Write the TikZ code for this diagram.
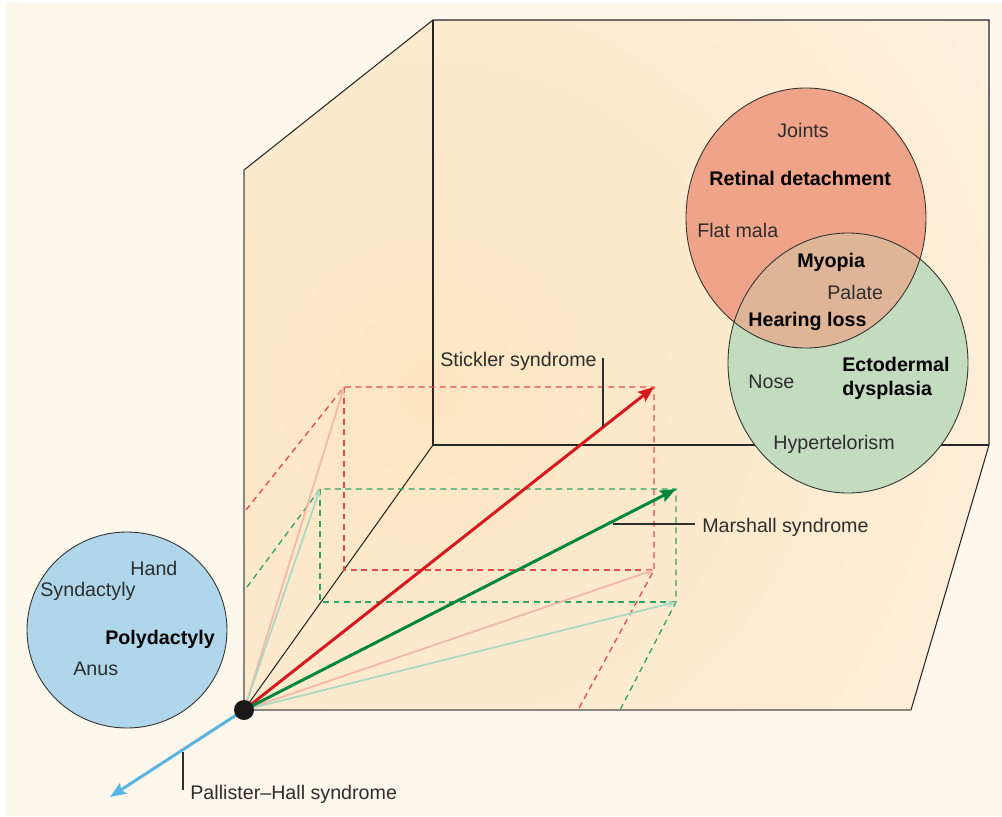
\documentclass[tikz,border=0pt]{standalone}
\usepackage{fontspec}
\setmainfont{Liberation Sans}
\usepackage{tikz}
\usetikzlibrary{arrows.meta, positioning, calc}

\definecolor{pagebg}{HTML}{FEF7EB}
\definecolor{boxin}{HTML}{FDE5C1}
\definecolor{boxout}{HTML}{FEF4E5}
\definecolor{sticklerred}{HTML}{D7191F}
\definecolor{marshallgreen}{HTML}{00873E}
\definecolor{phsblue}{HTML}{5AB4E0}
\definecolor{dashred}{HTML}{E8474C}
\definecolor{dashgreen}{HTML}{2FA463}
\definecolor{ghostred}{HTML}{F4B7A6}
\definecolor{ghostgreen}{HTML}{A9D8C7}
\definecolor{retinafill}{HTML}{EFA388}
\definecolor{ectofill}{HTML}{C3DBBF}
\definecolor{overlapfill}{HTML}{DFB598}
\definecolor{limbfill}{HTML}{AFD6EA}
\definecolor{edgegray}{HTML}{8A8580}
\definecolor{labelgray}{HTML}{2E2E2E}

\begin{document}
\begin{tikzpicture}[x=0.02cm, y=-0.02cm,
    term/.style={font=\fontsize{11.2}{13.4}\selectfont, text=labelgray, inner sep=0pt},
    keyterm/.style={term, font=\fontsize{11.2}{13.4}\selectfont\bfseries, text=black},
    wall/.style={draw=black!85, line width=0.6pt},
    axisline/.style={draw=edgegray, line width=1.2pt},
    proj/.style={dash pattern=on 3.4pt off 2.6pt, line width=0.75pt},
    ghost/.style={line width=1pt, -{Stealth[length=5pt, width=4pt]}},
    syndrome/.style={line width=1.7pt, -{Stealth[length=9pt, width=7pt, inset=1.5pt]}},
    leader/.style={draw=labelgray, line width=0.6pt},
    disease/.style={draw=black!80, line width=0.5pt}
]
% page
\fill[white] (0,0) rectangle (1002,816);
\fill[pagebg] (6,3) rectangle (1002,816);
\useasboundingbox (0,0) rectangle (1002,816);

% corners of the box
\coordinate (O) at (244,710);
\coordinate (lwtop) at (244,170);
\coordinate (bwtl) at (433,20);
\coordinate (bwtr) at (989,20);
\coordinate (bwbr) at (989,445);
\coordinate (bwbl) at (433,445);
\coordinate (flr) at (911,710);

\begin{scope}
\clip (O) -- (lwtop) -- (bwtl) -- (bwtr) -- (bwbr) -- (flr) -- cycle;
\shade[inner color=boxin, outer color=boxout] (430,390) circle (900);
\end{scope}

\draw[wall] (lwtop) -- (bwtl) -- (bwtr) -- (bwbr) -- (flr);
\draw[wall] (bwtl) -- (bwbl) -- (bwbr);
\draw[wall] (O) -- (bwbl);
\draw[axisline] (lwtop) -- (O) -- (flr);

% Stickler projections
\coordinate (rA) at (344,387);
\coordinate (R) at (654,387);
\coordinate (rB) at (344,570);
\coordinate (rC) at (654,570);
\coordinate (rD) at (246,510);
\coordinate (rE) at (578,710);

% Marshall projections
\coordinate (gA) at (320,489);
\coordinate (G) at (676,489);
\coordinate (gB) at (320,602);
\coordinate (gC) at (676,602);
\coordinate (gD) at (247,587);
\coordinate (gE) at (620,710);

\coordinate (P) at (110,797);

\draw[proj, dashred] (rD) -- (rA) -- (R) -- (rC) -- (rE);
\draw[proj, dashred] (rA) -- (rB) -- (rC);
\draw[proj, dashgreen] (gD) -- (gA) -- (G) -- (gC) -- (gE);
\draw[proj, dashgreen] (gA) -- (gB) -- (gC);

\draw[ghost, ghostred] (O) -- (rA);
\draw[ghost, ghostgreen] (O) -- (gA);
\draw[ghost, ghostred] (O) -- (rC);
\draw[ghost, ghostgreen] (O) -- (gC);

\draw[syndrome, sticklerred] (O) -- (R);
\draw[syndrome, marshallgreen] (O) -- (G);
\draw[syndrome, phsblue] (O) -- (P);

\fill[black!90] (O) circle (10);

% syndrome labels
\node[term, anchor=base east] (stickler) at (597,366) {Stickler syndrome};
\node[term, anchor=base west] (marshall) at (702,532) {Marshall syndrome};
\node[term, anchor=base west] (pallister) at (190,799) {Pallister--Hall syndrome};

\coordinate (stktop) at (603,358);
\coordinate (stkfoot) at (603,427);
\coordinate (marend) at (695,524);
\coordinate (marfoot) at (613,524);
\coordinate (phsfoot) at (183,752);
\coordinate (phsend) at (183,790);
\draw[leader] (stktop) -- (stkfoot);
\draw[leader] (marfoot) -- (marend);
\draw[leader] (phsfoot) -- (phsend);

% phenotype circles
\coordinate (limb) at (127,630);
\coordinate (eye) at (806,218);
\coordinate (ecto) at (848,363);

\fill[limbfill] (limb) ellipse [x radius=100, y radius=98];
\draw[disease] (limb) ellipse [x radius=100, y radius=98];

\fill[retinafill] (eye) ellipse [x radius=120, y radius=130];
\fill[ectofill] (ecto) ellipse [x radius=120, y radius=130];
\begin{scope}
\clip (eye) ellipse [x radius=120, y radius=130];
\fill[overlapfill] (ecto) ellipse [x radius=120, y radius=130];
\end{scope}
\draw[disease] (eye) ellipse [x radius=120, y radius=130];
\draw[disease] (ecto) ellipse [x radius=120, y radius=130];

\node[term, anchor=base west] (hand) at (130,575) {Hand};
\node[term, anchor=base west] (syndactyly) at (40,596) {Syndactyly};
\node[keyterm, anchor=base west] (polydactyly) at (105,644) {Polydactyly};
\node[term, anchor=base west] (anus) at (73,675) {Anus};

\node[term, anchor=base west] (joints) at (777,137) {Joints};
\node[keyterm, anchor=base west] (retinal) at (709,185) {Retinal detachment};
\node[term, anchor=base west] (flatmala) at (697,237) {Flat mala};
\node[keyterm, anchor=base west] (myopia) at (797,267) {Myopia};
\node[term, anchor=base west] (palate) at (827,299) {Palate};
\node[keyterm, anchor=base west] (hearing) at (748,326) {Hearing loss};
\node[keyterm, anchor=base west] (ectodermal) at (842,371) {Ectodermal};
\node[keyterm, anchor=base west] (dysplasia) at (842,395) {dysplasia};
\node[term, anchor=base west] (nose) at (748,388) {Nose};
\node[term, anchor=base west] (hypertelorism) at (773,449) {Hypertelorism};
\end{tikzpicture}
\end{document}
